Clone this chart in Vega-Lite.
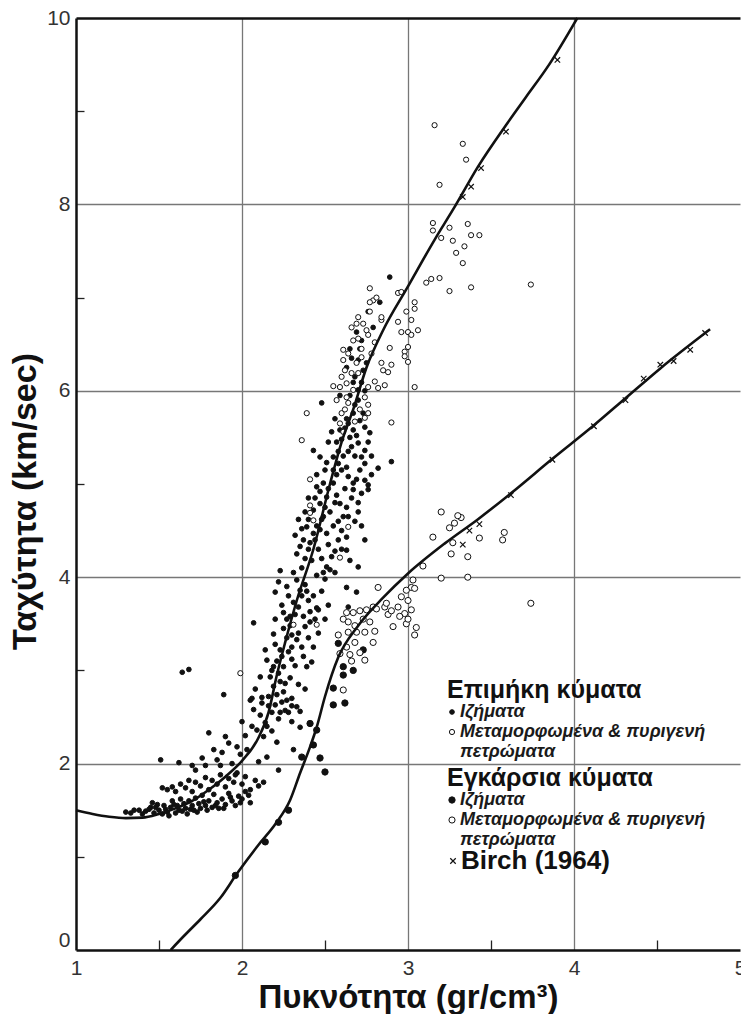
{
  "$schema": "https://vega.github.io/schema/vega-lite/v6.json",
  "width": 664,
  "height": 932,
  "autosize": {"type": "none"},
  "padding": {"left": 76, "top": 18, "right": 1, "bottom": 64},
  "background": "white",
  "config": {
    "view": {"stroke": null},
    "font": "Liberation Sans",
    "legend": {
      "padding": 0,
      "symbolOffset": -4,
      "labelOffset": -1,
      "gridAlign": "none",
      "titleFont": "Liberation Sans",
      "titleFontSize": 25,
      "titleFontWeight": "bold",
      "titleColor": "#111",
      "titlePadding": 0,
      "titleLimit": 400,
      "labelFont": "Liberation Sans",
      "labelFontSize": 18,
      "labelFontStyle": "italic",
      "labelFontWeight": "bold",
      "labelColor": "#1a1a1a",
      "labelLimit": 400,
      "rowPadding": 2,
      "symbolStrokeWidth": 1
    }
  },
  "datasets": {
    "p_waves": [
      {"density":1.30,"velocity":1.48,"rock":"sed"},{"density":1.33,"velocity":1.47,"rock":"sed"},{"density":1.35,"velocity":1.50,"rock":"sed"},{"density":1.38,"velocity":1.50,"rock":"sed"},{"density":1.40,"velocity":1.46,"rock":"sed"},{"density":1.42,"velocity":1.49,"rock":"sed"},{"density":1.44,"velocity":1.51,"rock":"sed"},{"density":1.45,"velocity":1.53,"rock":"sed"},{"density":1.46,"velocity":1.58,"rock":"sed"},{"density":1.47,"velocity":1.47,"rock":"sed"},{"density":1.48,"velocity":1.53,"rock":"sed"},{"density":1.49,"velocity":1.56,"rock":"sed"},{"density":1.50,"velocity":1.50,"rock":"sed"},{"density":1.52,"velocity":1.46,"rock":"sed"},{"density":1.53,"velocity":1.55,"rock":"sed"},{"density":1.54,"velocity":1.51,"rock":"sed"},{"density":1.55,"velocity":1.48,"rock":"sed"},{"density":1.56,"velocity":1.44,"rock":"sed"},{"density":1.57,"velocity":1.53,"rock":"sed"},{"density":1.58,"velocity":1.60,"rock":"sed"},{"density":1.59,"velocity":1.56,"rock":"sed"},{"density":1.60,"velocity":1.47,"rock":"sed"},{"density":1.61,"velocity":1.55,"rock":"sed"},{"density":1.62,"velocity":1.50,"rock":"sed"},{"density":1.63,"velocity":1.62,"rock":"sed"},{"density":1.64,"velocity":1.49,"rock":"sed"},{"density":1.65,"velocity":1.57,"rock":"sed"},{"density":1.66,"velocity":1.52,"rock":"sed"},{"density":1.67,"velocity":1.46,"rock":"sed"},{"density":1.68,"velocity":1.60,"rock":"sed"},{"density":1.69,"velocity":1.51,"rock":"sed"},{"density":1.70,"velocity":1.55,"rock":"sed"},{"density":1.71,"velocity":1.50,"rock":"sed"},{"density":1.72,"velocity":1.63,"rock":"sed"},{"density":1.73,"velocity":1.48,"rock":"sed"},{"density":1.74,"velocity":1.57,"rock":"sed"},{"density":1.75,"velocity":1.52,"rock":"sed"},{"density":1.76,"velocity":1.66,"rock":"sed"},{"density":1.77,"velocity":1.59,"rock":"sed"},{"density":1.78,"velocity":1.55,"rock":"sed"},{"density":1.79,"velocity":1.50,"rock":"sed"},{"density":1.80,"velocity":1.60,"rock":"sed"},{"density":1.82,"velocity":1.53,"rock":"sed"},{"density":1.83,"velocity":1.67,"rock":"sed"},{"density":1.84,"velocity":1.55,"rock":"sed"},{"density":1.85,"velocity":1.58,"rock":"sed"},{"density":1.86,"velocity":1.52,"rock":"sed"},{"density":1.88,"velocity":1.62,"rock":"sed"},{"density":1.89,"velocity":1.52,"rock":"sed"},{"density":1.90,"velocity":1.56,"rock":"sed"},{"density":1.92,"velocity":1.68,"rock":"sed"},{"density":1.93,"velocity":1.64,"rock":"sed"},{"density":1.94,"velocity":1.60,"rock":"sed"},{"density":1.96,"velocity":1.55,"rock":"sed"},{"density":1.98,"velocity":1.65,"rock":"sed"},{"density":1.99,"velocity":1.58,"rock":"sed"},{"density":2.00,"velocity":1.62,"rock":"sed"},{"density":2.02,"velocity":1.70,"rock":"sed"},{"density":2.04,"velocity":1.66,"rock":"sed"},{"density":2.05,"velocity":1.58,"rock":"sed"},
      {"density":1.52,"velocity":1.74,"rock":"sed"},{"density":1.55,"velocity":1.72,"rock":"sed"},{"density":1.58,"velocity":1.75,"rock":"sed"},{"density":1.60,"velocity":1.70,"rock":"sed"},{"density":1.63,"velocity":1.78,"rock":"sed"},{"density":1.66,"velocity":1.74,"rock":"sed"},{"density":1.68,"velocity":1.82,"rock":"sed"},{"density":1.70,"velocity":1.70,"rock":"sed"},{"density":1.72,"velocity":1.80,"rock":"sed"},{"density":1.75,"velocity":1.76,"rock":"sed"},{"density":1.78,"velocity":1.85,"rock":"sed"},{"density":1.80,"velocity":1.72,"rock":"sed"},{"density":1.82,"velocity":1.82,"rock":"sed"},{"density":1.85,"velocity":1.78,"rock":"sed"},{"density":1.87,"velocity":1.88,"rock":"sed"},{"density":1.90,"velocity":1.75,"rock":"sed"},{"density":1.92,"velocity":1.84,"rock":"sed"},{"density":1.95,"velocity":1.80,"rock":"sed"},{"density":1.97,"velocity":1.90,"rock":"sed"},{"density":2.00,"velocity":1.78,"rock":"sed"},{"density":2.02,"velocity":1.86,"rock":"sed"},{"density":2.05,"velocity":1.72,"rock":"sed"},{"density":2.08,"velocity":1.82,"rock":"sed"},{"density":2.10,"velocity":1.76,"rock":"sed"},{"density":2.13,"velocity":1.80,"rock":"sed"},
      {"density":1.51,"velocity":2.04,"rock":"sed"},{"density":1.62,"velocity":2.01,"rock":"sed"},{"density":1.72,"velocity":1.93,"rock":"sed"},{"density":1.78,"velocity":1.98,"rock":"sed"},{"density":1.80,"velocity":2.33,"rock":"sed"},{"density":1.85,"velocity":2.04,"rock":"sed"},{"density":1.88,"velocity":2.12,"rock":"sed"},{"density":1.90,"velocity":2.29,"rock":"sed"},{"density":1.92,"velocity":2.22,"rock":"sed"},{"density":1.94,"velocity":2.00,"rock":"sed"},{"density":1.96,"velocity":1.88,"rock":"sed"},{"density":1.97,"velocity":2.18,"rock":"sed"},{"density":1.99,"velocity":2.10,"rock":"sed"},{"density":2.00,"velocity":2.45,"rock":"sed"},{"density":2.02,"velocity":2.30,"rock":"sed"},{"density":2.05,"velocity":2.68,"rock":"sed"},{"density":2.07,"velocity":2.58,"rock":"sed"},{"density":2.09,"velocity":2.36,"rock":"sed"},{"density":2.11,"velocity":2.52,"rock":"sed"},{"density":2.13,"velocity":2.29,"rock":"sed"},{"density":2.14,"velocity":2.44,"rock":"sed"},{"density":2.15,"velocity":2.07,"rock":"sed"},{"density":2.16,"velocity":2.62,"rock":"sed"},{"density":2.18,"velocity":2.35,"rock":"sed"},{"density":2.21,"velocity":2.23,"rock":"sed"},{"density":2.22,"velocity":1.93,"rock":"sed"},{"density":2.23,"velocity":2.55,"rock":"sed"},{"density":2.35,"velocity":2.39,"rock":"sed"},{"density":2.30,"velocity":2.45,"rock":"sed"},{"density":1.64,"velocity":2.98,"rock":"sed"},{"density":1.68,"velocity":3.01,"rock":"sed"},{"density":1.89,"velocity":2.74,"rock":"sed"},{"density":1.83,"velocity":2.15,"rock":"sed"},{"density":1.87,"velocity":1.98,"rock":"sed"},{"density":2.03,"velocity":2.15,"rock":"sed"},{"density":2.06,"velocity":2.40,"rock":"sed"},{"density":2.10,"velocity":2.02,"rock":"sed"},{"density":2.12,"velocity":2.65,"rock":"sed"},{"density":1.76,"velocity":2.06,"rock":"sed"},{"density":1.70,"velocity":1.98,"rock":"sed"},{"density":2.31,"velocity":2.15,"rock":"sed"},
      {"density":2.06,"velocity":2.70,"rock":"sed"},{"density":2.08,"velocity":2.80,"rock":"sed"},{"density":2.11,"velocity":2.93,"rock":"sed"},{"density":2.14,"velocity":3.22,"rock":"sed"},{"density":2.15,"velocity":3.11,"rock":"sed"},{"density":2.19,"velocity":3.04,"rock":"sed"},{"density":2.25,"velocity":3.04,"rock":"sed"},{"density":2.32,"velocity":3.05,"rock":"sed"},{"density":2.39,"velocity":3.04,"rock":"sed"},{"density":2.42,"velocity":3.09,"rock":"sed"},{"density":2.17,"velocity":2.93,"rock":"sed"},{"density":2.22,"velocity":2.97,"rock":"sed"},{"density":2.23,"velocity":2.88,"rock":"sed"},{"density":2.26,"velocity":2.86,"rock":"sed"},{"density":2.19,"velocity":2.83,"rock":"sed"},{"density":2.25,"velocity":2.77,"rock":"sed"},{"density":2.21,"velocity":2.74,"rock":"sed"},{"density":2.16,"velocity":2.72,"rock":"sed"},{"density":2.12,"velocity":2.71,"rock":"sed"},{"density":2.24,"velocity":2.66,"rock":"sed"},{"density":2.20,"velocity":2.63,"rock":"sed"},{"density":2.27,"velocity":2.68,"rock":"sed"},{"density":2.30,"velocity":2.70,"rock":"sed"},{"density":2.18,"velocity":2.55,"rock":"sed"},{"density":2.22,"velocity":2.48,"rock":"sed"},{"density":2.26,"velocity":2.57,"rock":"sed"},{"density":2.15,"velocity":2.40,"rock":"sed"},{"density":2.28,"velocity":2.55,"rock":"sed"},{"density":2.24,"velocity":3.15,"rock":"sed"},{"density":2.28,"velocity":3.20,"rock":"sed"},{"density":2.20,"velocity":3.28,"rock":"sed"},{"density":2.36,"velocity":3.25,"rock":"sed"},{"density":2.33,"velocity":3.33,"rock":"sed"},{"density":2.30,"velocity":3.38,"rock":"sed"},{"density":2.25,"velocity":3.45,"rock":"sed"},{"density":2.19,"velocity":3.39,"rock":"sed"},{"density":2.07,"velocity":3.51,"rock":"sed"},{"density":2.20,"velocity":3.55,"rock":"sed"},{"density":2.25,"velocity":3.62,"rock":"sed"},{"density":2.31,"velocity":3.73,"rock":"sed"},{"density":2.38,"velocity":3.47,"rock":"sed"},{"density":2.41,"velocity":3.52,"rock":"sed"},{"density":2.41,"velocity":3.63,"rock":"sed"},{"density":2.46,"velocity":3.65,"rock":"sed"},{"density":2.20,"velocity":3.84,"rock":"sed"},{"density":2.23,"velocity":4.07,"rock":"sed"},{"density":2.33,"velocity":3.97,"rock":"sed"},{"density":2.35,"velocity":3.86,"rock":"sed"},{"density":2.38,"velocity":3.92,"rock":"sed"},{"density":2.43,"velocity":3.80,"rock":"sed"},{"density":2.45,"velocity":3.67,"rock":"sed"},{"density":2.44,"velocity":3.55,"rock":"sed"},{"density":2.40,"velocity":3.75,"rock":"sed"},{"density":2.29,"velocity":3.58,"rock":"sed"},{"density":2.27,"velocity":3.90,"rock":"sed"},{"density":2.31,"velocity":4.05,"rock":"sed"},{"density":2.36,"velocity":4.10,"rock":"sed"},{"density":2.45,"velocity":4.02,"rock":"sed"},{"density":2.49,"velocity":4.05,"rock":"sed"},{"density":2.51,"velocity":4.11,"rock":"sed"},{"density":2.53,"velocity":4.08,"rock":"sed"},{"density":2.56,"velocity":4.05,"rock":"sed"},{"density":2.50,"velocity":3.98,"rock":"sed"},{"density":2.63,"velocity":3.89,"rock":"sed"},{"density":2.69,"velocity":3.84,"rock":"sed"},{"density":2.63,"velocity":4.29,"rock":"sed"},{"density":2.65,"velocity":4.18,"rock":"sed"},{"density":2.70,"velocity":4.11,"rock":"sed"},{"density":2.33,"velocity":2.61,"rock":"sed"},{"density":2.30,"velocity":2.62,"rock":"sed"},{"density":2.35,"velocity":2.56,"rock":"sed"},{"density":2.30,"velocity":3.12,"rock":"sed"},{"density":2.37,"velocity":3.15,"rock":"sed"},{"density":2.34,"velocity":2.85,"rock":"sed"},{"density":2.29,"velocity":2.92,"rock":"sed"},{"density":2.38,"velocity":2.80,"rock":"sed"},{"density":2.64,"velocity":3.68,"rock":"sed"},
      {"density":2.18,"velocity":3.00,"rock":"sed"},{"density":2.21,"velocity":3.10,"rock":"sed"},{"density":2.23,"velocity":3.22,"rock":"sed"},{"density":2.27,"velocity":3.35,"rock":"sed"},{"density":2.29,"velocity":3.48,"rock":"sed"},{"density":2.32,"velocity":3.60,"rock":"sed"},{"density":2.34,"velocity":3.68,"rock":"sed"},{"density":2.36,"velocity":3.80,"rock":"sed"},{"density":2.39,"velocity":3.85,"rock":"sed"},{"density":2.30,"velocity":3.25,"rock":"sed"},{"density":2.34,"velocity":3.40,"rock":"sed"},{"density":2.27,"velocity":3.55,"rock":"sed"},{"density":2.24,"velocity":3.70,"rock":"sed"},{"density":2.22,"velocity":3.95,"rock":"sed"},{"density":2.28,"velocity":3.80,"rock":"sed"},{"density":2.37,"velocity":3.58,"rock":"sed"},{"density":2.40,"velocity":3.35,"rock":"sed"},{"density":2.43,"velocity":3.25,"rock":"sed"},{"density":2.46,"velocity":3.40,"rock":"sed"},{"density":2.50,"velocity":3.55,"rock":"sed"},{"density":2.52,"velocity":3.70,"rock":"sed"},{"density":2.48,"velocity":3.85,"rock":"sed"},
      {"density":2.38,"velocity":4.20,"rock":"sed"},{"density":2.40,"velocity":4.30,"rock":"sed"},{"density":2.44,"velocity":4.40,"rock":"sed"},{"density":2.45,"velocity":4.55,"rock":"sed"},{"density":2.49,"velocity":4.65,"rock":"sed"},{"density":2.50,"velocity":4.75,"rock":"sed"},{"density":2.52,"velocity":4.95,"rock":"sed"},{"density":2.44,"velocity":4.85,"rock":"sed"},{"density":2.47,"velocity":4.92,"rock":"sed"},{"density":2.56,"velocity":4.80,"rock":"sed"},{"density":2.58,"velocity":4.60,"rock":"sed"},{"density":2.60,"velocity":4.50,"rock":"sed"},{"density":2.62,"velocity":4.95,"rock":"sed"},{"density":2.66,"velocity":4.85,"rock":"sed"},{"density":2.70,"velocity":4.70,"rock":"sed"},{"density":2.72,"velocity":4.55,"rock":"sed"},{"density":2.74,"velocity":4.40,"rock":"sed"},{"density":2.60,"velocity":4.30,"rock":"sed"},{"density":2.56,"velocity":4.28,"rock":"sed"},{"density":2.48,"velocity":4.20,"rock":"sed"},{"density":2.32,"velocity":4.45,"rock":"sed"},{"density":2.34,"velocity":4.62,"rock":"sed"},
      {"density":2.55,"velocity":5.15,"rock":"sed"},{"density":2.58,"velocity":5.22,"rock":"sed"},{"density":2.61,"velocity":5.30,"rock":"sed"},{"density":2.64,"velocity":5.35,"rock":"sed"},{"density":2.65,"velocity":5.50,"rock":"sed"},{"density":2.57,"velocity":5.45,"rock":"sed"},{"density":2.59,"velocity":5.58,"rock":"sed"},{"density":2.63,"velocity":5.70,"rock":"sed"},{"density":2.68,"velocity":5.85,"rock":"sed"},{"density":2.71,"velocity":5.68,"rock":"sed"},{"density":2.69,"velocity":5.52,"rock":"sed"},{"density":2.76,"velocity":5.45,"rock":"sed"},{"density":2.78,"velocity":5.30,"rock":"sed"},{"density":2.71,"velocity":5.15,"rock":"sed"},{"density":2.69,"velocity":5.05,"rock":"sed"},{"density":2.78,"velocity":5.10,"rock":"sed"},{"density":2.65,"velocity":5.95,"rock":"sed"},{"density":2.68,"velocity":6.15,"rock":"sed"},{"density":2.74,"velocity":6.00,"rock":"sed"},{"density":2.71,"velocity":6.45,"rock":"sed"},{"density":2.66,"velocity":6.35,"rock":"sed"},{"density":2.75,"velocity":6.30,"rock":"sed"},
      {"density":2.33,"velocity":4.25,"rock":"sed"},{"density":2.37,"velocity":4.40,"rock":"sed"},{"density":2.41,"velocity":4.37,"rock":"sed"},{"density":2.43,"velocity":4.47,"rock":"sed"},{"density":2.47,"velocity":4.51,"rock":"sed"},{"density":2.51,"velocity":4.47,"rock":"sed"},{"density":2.39,"velocity":4.54,"rock":"sed"},{"density":2.43,"velocity":4.72,"rock":"sed"},{"density":2.47,"velocity":4.79,"rock":"sed"},{"density":2.51,"velocity":4.86,"rock":"sed"},{"density":2.59,"velocity":4.79,"rock":"sed"},{"density":2.63,"velocity":4.75,"rock":"sed"},{"density":2.61,"velocity":4.65,"rock":"sed"},{"density":2.64,"velocity":4.65,"rock":"sed"},{"density":2.63,"velocity":4.43,"rock":"sed"},{"density":2.55,"velocity":4.55,"rock":"sed"},{"density":2.45,"velocity":4.97,"rock":"sed"},{"density":2.49,"velocity":5.01,"rock":"sed"},{"density":2.55,"velocity":5.01,"rock":"sed"},{"density":2.40,"velocity":4.62,"rock":"sed"},{"density":2.35,"velocity":4.33,"rock":"sed"},{"density":2.46,"velocity":4.30,"rock":"sed"},{"density":2.52,"velocity":4.35,"rock":"sed"},{"density":2.58,"velocity":4.40,"rock":"sed"},{"density":2.54,"velocity":4.22,"rock":"sed"},{"density":2.42,"velocity":4.18,"rock":"sed"},{"density":2.48,"velocity":4.62,"rock":"sed"},{"density":2.53,"velocity":4.70,"rock":"sed"},{"density":2.57,"velocity":4.88,"rock":"sed"},{"density":2.40,"velocity":4.85,"rock":"sed"},{"density":2.38,"velocity":4.70,"rock":"sed"},{"density":2.36,"velocity":4.52,"rock":"sed"},{"density":2.67,"velocity":4.94,"rock":"sed"},{"density":2.67,"velocity":5.01,"rock":"sed"},{"density":2.64,"velocity":5.08,"rock":"sed"},{"density":2.63,"velocity":5.18,"rock":"sed"},{"density":2.74,"velocity":5.04,"rock":"sed"},{"density":2.76,"velocity":4.94,"rock":"sed"},{"density":2.76,"velocity":4.99,"rock":"sed"},{"density":2.72,"velocity":4.90,"rock":"sed"},{"density":2.70,"velocity":4.80,"rock":"sed"},{"density":2.68,"velocity":4.60,"rock":"sed"},
      {"density":2.43,"velocity":5.36,"rock":"sed"},{"density":2.47,"velocity":5.29,"rock":"sed"},{"density":2.51,"velocity":5.23,"rock":"sed"},{"density":2.55,"velocity":5.29,"rock":"sed"},{"density":2.52,"velocity":5.45,"rock":"sed"},{"density":2.54,"velocity":5.56,"rock":"sed"},{"density":2.48,"velocity":5.87,"rock":"sed"},{"density":2.58,"velocity":5.35,"rock":"sed"},{"density":2.60,"velocity":5.48,"rock":"sed"},{"density":2.62,"velocity":5.60,"rock":"sed"},{"density":2.64,"velocity":5.65,"rock":"sed"},{"density":2.67,"velocity":5.58,"rock":"sed"},{"density":2.70,"velocity":5.44,"rock":"sed"},{"density":2.74,"velocity":5.36,"rock":"sed"},{"density":2.72,"velocity":5.29,"rock":"sed"},{"density":2.74,"velocity":5.22,"rock":"sed"},{"density":2.74,"velocity":5.61,"rock":"sed"},{"density":2.77,"velocity":5.55,"rock":"sed"},{"density":2.67,"velocity":5.76,"rock":"sed"},{"density":2.73,"velocity":5.76,"rock":"sed"},{"density":2.70,"velocity":5.90,"rock":"sed"},{"density":2.67,"velocity":6.09,"rock":"sed"},{"density":2.72,"velocity":6.09,"rock":"sed"},{"density":2.70,"velocity":6.01,"rock":"sed"},{"density":2.73,"velocity":6.22,"rock":"sed"},{"density":2.70,"velocity":6.33,"rock":"sed"},{"density":2.72,"velocity":6.54,"rock":"sed"},{"density":2.69,"velocity":6.63,"rock":"sed"},{"density":2.79,"velocity":6.68,"rock":"sed"},{"density":2.83,"velocity":6.95,"rock":"sed"},{"density":2.89,"velocity":7.22,"rock":"sed"},{"density":2.82,"velocity":5.17,"rock":"sed"},{"density":2.90,"velocity":5.24,"rock":"sed"},{"density":2.60,"velocity":5.15,"rock":"sed"},{"density":2.57,"velocity":5.10,"rock":"sed"},{"density":2.50,"velocity":5.15,"rock":"sed"},{"density":2.56,"velocity":5.70,"rock":"sed"},{"density":2.59,"velocity":5.95,"rock":"sed"},{"density":2.63,"velocity":6.25,"rock":"sed"},{"density":2.65,"velocity":6.45,"rock":"sed"},{"density":2.76,"velocity":6.85,"rock":"sed"},{"density":2.68,"velocity":5.30,"rock":"sed"},{"density":2.66,"velocity":5.40,"rock":"sed"},{"density":2.45,"velocity":5.10,"rock":"sed"},
      {"density":3.16,"velocity":8.85,"rock":"meta"},{"density":3.33,"velocity":8.65,"rock":"meta"},{"density":3.35,"velocity":8.48,"rock":"meta"},{"density":3.19,"velocity":8.21,"rock":"meta"},{"density":3.15,"velocity":7.80,"rock":"meta"},{"density":3.15,"velocity":7.72,"rock":"meta"},{"density":3.25,"velocity":7.75,"rock":"meta"},{"density":3.36,"velocity":7.79,"rock":"meta"},{"density":3.38,"velocity":7.67,"rock":"meta"},{"density":3.43,"velocity":7.67,"rock":"meta"},{"density":3.20,"velocity":7.64,"rock":"meta"},{"density":3.27,"velocity":7.61,"rock":"meta"},{"density":3.34,"velocity":7.55,"rock":"meta"},{"density":3.29,"velocity":7.48,"rock":"meta"},{"density":3.33,"velocity":7.37,"rock":"meta"},{"density":3.11,"velocity":7.16,"rock":"meta"},{"density":3.14,"velocity":7.20,"rock":"meta"},{"density":3.19,"velocity":7.21,"rock":"meta"},{"density":3.25,"velocity":7.07,"rock":"meta"},{"density":3.38,"velocity":7.11,"rock":"meta"},{"density":3.74,"velocity":7.14,"rock":"meta"},{"density":2.94,"velocity":7.05,"rock":"meta"},{"density":2.96,"velocity":7.06,"rock":"meta"},{"density":3.04,"velocity":6.95,"rock":"meta"},{"density":3.04,"velocity":6.88,"rock":"meta"},{"density":2.99,"velocity":6.85,"rock":"meta"},{"density":3.02,"velocity":6.76,"rock":"meta"},{"density":2.94,"velocity":6.74,"rock":"meta"},{"density":3.06,"velocity":6.65,"rock":"meta"},{"density":3.00,"velocity":6.63,"rock":"meta"},{"density":2.96,"velocity":6.63,"rock":"meta"},{"density":3.02,"velocity":6.60,"rock":"meta"},{"density":3.00,"velocity":6.47,"rock":"meta"},{"density":2.98,"velocity":6.42,"rock":"meta"},{"density":2.98,"velocity":6.37,"rock":"meta"},{"density":3.00,"velocity":6.31,"rock":"meta"},{"density":2.89,"velocity":6.46,"rock":"meta"},{"density":2.90,"velocity":6.28,"rock":"meta"},{"density":2.85,"velocity":6.22,"rock":"meta"},{"density":2.86,"velocity":6.06,"rock":"meta"},{"density":2.82,"velocity":6.03,"rock":"meta"},{"density":3.04,"velocity":6.04,"rock":"meta"},{"density":2.90,"velocity":5.66,"rock":"meta"},{"density":2.80,"velocity":6.52,"rock":"meta"},{"density":2.84,"velocity":6.76,"rock":"meta"},{"density":2.79,"velocity":6.97,"rock":"meta"},{"density":2.81,"velocity":7.00,"rock":"meta"},{"density":2.77,"velocity":6.95,"rock":"meta"},{"density":2.70,"velocity":6.79,"rock":"meta"},{"density":2.69,"velocity":6.72,"rock":"meta"},{"density":2.73,"velocity":6.72,"rock":"meta"},{"density":2.76,"velocity":6.60,"rock":"meta"},{"density":2.67,"velocity":6.54,"rock":"meta"},{"density":2.70,"velocity":6.56,"rock":"meta"},{"density":2.61,"velocity":6.44,"rock":"meta"},{"density":2.61,"velocity":6.33,"rock":"meta"},{"density":2.64,"velocity":6.40,"rock":"meta"},{"density":2.69,"velocity":6.30,"rock":"meta"},{"density":2.72,"velocity":6.36,"rock":"meta"},{"density":2.60,"velocity":6.15,"rock":"meta"},{"density":2.62,"velocity":6.22,"rock":"meta"},{"density":2.66,"velocity":6.19,"rock":"meta"},{"density":2.70,"velocity":6.19,"rock":"meta"},{"density":2.59,"velocity":6.04,"rock":"meta"},{"density":2.63,"velocity":6.08,"rock":"meta"},{"density":2.67,"velocity":6.01,"rock":"meta"},{"density":2.76,"velocity":6.04,"rock":"meta"},{"density":2.57,"velocity":5.90,"rock":"meta"},{"density":2.63,"velocity":5.93,"rock":"meta"},{"density":2.64,"velocity":5.87,"rock":"meta"},{"density":2.74,"velocity":5.93,"rock":"meta"},{"density":2.76,"velocity":5.85,"rock":"meta"},{"density":2.60,"velocity":5.76,"rock":"meta"},{"density":2.76,"velocity":5.76,"rock":"meta"},{"density":2.74,"velocity":5.71,"rock":"meta"},{"density":2.59,"velocity":5.65,"rock":"meta"},{"density":2.61,"velocity":5.56,"rock":"meta"},{"density":2.39,"velocity":5.76,"rock":"meta"},{"density":2.36,"velocity":5.47,"rock":"meta"},{"density":2.41,"velocity":5.05,"rock":"meta"},{"density":2.41,"velocity":4.77,"rock":"meta"},{"density":2.41,"velocity":4.69,"rock":"meta"},{"density":2.43,"velocity":4.61,"rock":"meta"},{"density":2.64,"velocity":4.54,"rock":"meta"},{"density":2.77,"velocity":6.85,"rock":"meta"},{"density":2.75,"velocity":6.65,"rock":"meta"},{"density":2.66,"velocity":6.68,"rock":"meta"},{"density":2.72,"velocity":6.45,"rock":"meta"},{"density":2.78,"velocity":6.40,"rock":"meta"},{"density":2.84,"velocity":6.30,"rock":"meta"},{"density":2.88,"velocity":6.20,"rock":"meta"},{"density":2.80,"velocity":6.10,"rock":"meta"},{"density":2.62,"velocity":5.80,"rock":"meta"},{"density":2.71,"velocity":5.80,"rock":"meta"},{"density":2.68,"velocity":5.67,"rock":"meta"},{"density":2.55,"velocity":6.05,"rock":"meta"},{"density":2.84,"velocity":6.79,"rock":"meta"},{"density":2.77,"velocity":7.10,"rock":"meta"},{"density":1.99,"velocity":2.97,"rock":"meta"},{"density":2.59,"velocity":4.21,"rock":"meta"},{"density":2.45,"velocity":3.49,"rock":"meta"},{"density":2.31,"velocity":3.49,"rock":"meta"}
    ],
    "s_waves": [
      {"density":1.96,"velocity":0.80,"rock":"sed"},{"density":2.14,"velocity":1.16,"rock":"sed"},{"density":2.22,"velocity":1.37,"rock":"sed"},{"density":2.28,"velocity":1.50,"rock":"sed"},{"density":2.36,"velocity":2.07,"rock":"sed"},{"density":2.43,"velocity":2.20,"rock":"sed"},{"density":2.47,"velocity":2.06,"rock":"sed"},{"density":2.50,"velocity":1.91,"rock":"sed"},{"density":2.41,"velocity":2.43,"rock":"sed"},{"density":2.45,"velocity":2.36,"rock":"sed"},{"density":2.55,"velocity":2.63,"rock":"sed"},{"density":2.55,"velocity":2.81,"rock":"sed"},{"density":2.62,"velocity":2.65,"rock":"sed"},{"density":2.61,"velocity":2.95,"rock":"sed"},{"density":2.61,"velocity":3.04,"rock":"sed"},{"density":2.67,"velocity":3.00,"rock":"sed"},{"density":2.73,"velocity":3.22,"rock":"sed"},{"density":2.58,"velocity":3.29,"rock":"sed"},
      {"density":2.82,"velocity":3.89,"rock":"meta"},{"density":2.79,"velocity":3.68,"rock":"meta"},{"density":2.75,"velocity":3.65,"rock":"meta"},{"density":2.86,"velocity":3.68,"rock":"meta"},{"density":2.88,"velocity":3.60,"rock":"meta"},{"density":2.94,"velocity":3.68,"rock":"meta"},{"density":2.96,"velocity":3.79,"rock":"meta"},{"density":3.00,"velocity":3.75,"rock":"meta"},{"density":2.98,"velocity":3.61,"rock":"meta"},{"density":3.02,"velocity":3.65,"rock":"meta"},{"density":3.02,"velocity":3.89,"rock":"meta"},{"density":3.03,"velocity":3.97,"rock":"meta"},{"density":2.99,"velocity":3.86,"rock":"meta"},{"density":2.91,"velocity":3.47,"rock":"meta"},{"density":2.99,"velocity":3.50,"rock":"meta"},{"density":3.04,"velocity":3.38,"rock":"meta"},{"density":2.63,"velocity":3.62,"rock":"meta"},{"density":2.67,"velocity":3.62,"rock":"meta"},{"density":2.61,"velocity":3.55,"rock":"meta"},{"density":2.64,"velocity":3.52,"rock":"meta"},{"density":2.68,"velocity":3.48,"rock":"meta"},{"density":2.73,"velocity":3.55,"rock":"meta"},{"density":2.77,"velocity":3.52,"rock":"meta"},{"density":2.64,"velocity":3.41,"rock":"meta"},{"density":2.69,"velocity":3.41,"rock":"meta"},{"density":2.74,"velocity":3.41,"rock":"meta"},{"density":2.79,"velocity":3.30,"rock":"meta"},{"density":2.68,"velocity":3.30,"rock":"meta"},{"density":2.63,"velocity":3.25,"rock":"meta"},{"density":2.59,"velocity":3.18,"rock":"meta"},{"density":2.65,"velocity":3.17,"rock":"meta"},{"density":2.71,"velocity":3.19,"rock":"meta"},{"density":2.66,"velocity":3.10,"rock":"meta"},{"density":2.74,"velocity":3.11,"rock":"meta"},{"density":2.81,"velocity":3.66,"rock":"meta"},{"density":2.87,"velocity":3.72,"rock":"meta"},{"density":2.90,"velocity":3.64,"rock":"meta"},{"density":2.95,"velocity":3.58,"rock":"meta"},{"density":3.00,"velocity":3.55,"rock":"meta"},{"density":3.05,"velocity":3.46,"rock":"meta"},{"density":2.80,"velocity":3.42,"rock":"meta"},{"density":2.61,"velocity":2.79,"rock":"meta"},{"density":2.58,"velocity":3.38,"rock":"meta"},{"density":2.71,"velocity":3.64,"rock":"meta"},
      {"density":3.20,"velocity":4.70,"rock":"meta"},{"density":3.32,"velocity":4.64,"rock":"meta"},{"density":3.28,"velocity":4.58,"rock":"meta"},{"density":3.25,"velocity":4.53,"rock":"meta"},{"density":3.15,"velocity":4.43,"rock":"meta"},{"density":3.27,"velocity":4.37,"rock":"meta"},{"density":3.43,"velocity":4.42,"rock":"meta"},{"density":3.26,"velocity":4.25,"rock":"meta"},{"density":3.36,"velocity":4.22,"rock":"meta"},{"density":3.58,"velocity":4.48,"rock":"meta"},{"density":3.57,"velocity":4.40,"rock":"meta"},{"density":3.09,"velocity":4.12,"rock":"meta"},{"density":3.20,"velocity":3.99,"rock":"meta"},{"density":3.36,"velocity":4.00,"rock":"meta"},{"density":3.74,"velocity":3.72,"rock":"meta"},{"density":3.04,"velocity":3.88,"rock":"meta"},{"density":3.30,"velocity":4.66,"rock":"meta"}
    ],
    "birch": [
      {"density":3.33,"velocity":8.08,"source":"Birch (1964)"},{"density":3.38,"velocity":8.19,"source":"Birch (1964)"},{"density":3.44,"velocity":8.39,"source":"Birch (1964)"},{"density":3.59,"velocity":8.78,"source":"Birch (1964)"},{"density":3.90,"velocity":9.55,"source":"Birch (1964)"},
      {"density":3.33,"velocity":4.35,"source":"Birch (1964)"},{"density":3.37,"velocity":4.50,"source":"Birch (1964)"},{"density":3.43,"velocity":4.57,"source":"Birch (1964)"},{"density":3.62,"velocity":4.88,"source":"Birch (1964)"},{"density":3.87,"velocity":5.26,"source":"Birch (1964)"},{"density":4.12,"velocity":5.62,"source":"Birch (1964)"},{"density":4.31,"velocity":5.90,"source":"Birch (1964)"},{"density":4.42,"velocity":6.13,"source":"Birch (1964)"},{"density":4.52,"velocity":6.28,"source":"Birch (1964)"},{"density":4.60,"velocity":6.32,"source":"Birch (1964)"},{"density":4.70,"velocity":6.44,"source":"Birch (1964)"},{"density":4.79,"velocity":6.62,"source":"Birch (1964)"}
    ],
    "curves": [
      {"density":1.00,"velocity":1.50,"curve":"P"},{"density":1.10,"velocity":1.46,"curve":"P"},{"density":1.20,"velocity":1.43,"curve":"P"},{"density":1.30,"velocity":1.415,"curve":"P"},{"density":1.40,"velocity":1.42,"curve":"P"},{"density":1.50,"velocity":1.46,"curve":"P"},{"density":1.60,"velocity":1.52,"curve":"P"},{"density":1.70,"velocity":1.60,"curve":"P"},{"density":1.80,"velocity":1.72,"curve":"P"},{"density":1.90,"velocity":1.86,"curve":"P"},{"density":2.00,"velocity":2.03,"curve":"P"},{"density":2.10,"velocity":2.28,"curve":"P"},{"density":2.16,"velocity":2.55,"curve":"P"},{"density":2.21,"velocity":2.95,"curve":"P"},{"density":2.26,"velocity":3.30,"curve":"P"},{"density":2.33,"velocity":3.75,"curve":"P"},{"density":2.43,"velocity":4.30,"curve":"P"},{"density":2.53,"velocity":5.00,"curve":"P"},{"density":2.60,"velocity":5.45,"curve":"P"},{"density":2.67,"velocity":5.80,"curve":"P"},{"density":2.75,"velocity":6.25,"curve":"P"},{"density":2.85,"velocity":6.65,"curve":"P"},{"density":3.00,"velocity":7.12,"curve":"P"},{"density":3.16,"velocity":7.62,"curve":"P"},{"density":3.28,"velocity":7.97,"curve":"P"},{"density":3.42,"velocity":8.40,"curve":"P"},{"density":3.59,"velocity":8.85,"curve":"P"},{"density":3.71,"velocity":9.15,"curve":"P"},{"density":3.85,"velocity":9.50,"curve":"P"},{"density":4.02,"velocity":10.0,"curve":"P"},
      {"density":1.57,"velocity":0.00,"curve":"S"},{"density":1.65,"velocity":0.15,"curve":"S"},{"density":1.75,"velocity":0.33,"curve":"S"},{"density":1.87,"velocity":0.56,"curve":"S"},{"density":1.97,"velocity":0.82,"curve":"S"},{"density":2.10,"velocity":1.13,"curve":"S"},{"density":2.20,"velocity":1.35,"curve":"S"},{"density":2.29,"velocity":1.61,"curve":"S"},{"density":2.35,"velocity":1.90,"curve":"S"},{"density":2.41,"velocity":2.18,"curve":"S"},{"density":2.45,"velocity":2.39,"curve":"S"},{"density":2.50,"velocity":2.72,"curve":"S"},{"density":2.58,"velocity":3.14,"curve":"S"},{"density":2.70,"velocity":3.48,"curve":"S"},{"density":2.85,"velocity":3.78,"curve":"S"},{"density":3.00,"velocity":4.04,"curve":"S"},{"density":3.22,"velocity":4.36,"curve":"S"},{"density":3.42,"velocity":4.62,"curve":"S"},{"density":3.62,"velocity":4.90,"curve":"S"},{"density":3.87,"velocity":5.27,"curve":"S"},{"density":4.12,"velocity":5.63,"curve":"S"},{"density":4.31,"velocity":5.92,"curve":"S"},{"density":4.52,"velocity":6.24,"curve":"S"},{"density":4.82,"velocity":6.66,"curve":"S"}
    ]
  },
  "layer": [
    {
      "data": {"name": "p_waves"},
      "mark": {"type": "point", "filled": true, "strokeWidth": 1, "opacity": 1},
      "encoding": {
        "x": {"field": "density", "type": "quantitative", "scale": {"domain": [1, 5], "nice": false, "zero": false},
          "axis": {"orient": "bottom", "title": "Πυκνότητα (gr/cm³)", "values": [1, 1.5, 2, 2.5, 3, 3.5, 4, 4.5, 5],
            "labelExpr": "datum.value % 1 == 0 ? format(datum.value, 'd') : ''",
            "grid": true, "gridColor": "#777", "gridWidth": 1.3,
            "gridOpacity": {"condition": {"test": "datum.value % 1 == 0 && datum.value > 1 && datum.value < 5", "value": 1}, "value": 0},
            "ticks": true, "tickSize": -10, "tickColor": "#222", "tickWidth": 1.3,
            "tickOpacity": {"condition": {"test": "datum.value % 1 != 0", "value": 1}, "value": 0},
            "domainColor": "#111", "domainWidth": 2.5,
            "labelFont": "Liberation Sans", "labelFontSize": 21, "labelColor": "#333", "labelPadding": 17, "labelOverlap": false, "labelFlush": false,
            "titleFont": "Liberation Sans", "titleFontSize": 33, "titleFontWeight": "bold", "titleColor": "#111", "titlePadding": 3}},
        "y": {"field": "velocity", "type": "quantitative", "scale": {"domain": [0, 10], "nice": false, "zero": false},
          "axis": {"title": "Ταχύτητα (km/sec)", "values": [0, 1, 2, 3, 4, 5, 6, 7, 8, 9, 10],
            "labelExpr": "datum.value % 2 == 0 ? format(datum.value, 'd') : ''",
            "grid": true, "gridColor": "#777", "gridWidth": 1.3,
            "gridOpacity": {"condition": {"test": "datum.value % 2 == 0 && datum.value > 0 && datum.value < 10", "value": 1}, "value": 0},
            "ticks": true, "tickSize": -8, "tickColor": "#222", "tickWidth": 1.3,
            "tickOpacity": {"condition": {"test": "datum.value % 2 == 1", "value": 1}, "value": 0},
            "domainColor": "#111", "domainWidth": 2.5,
            "labelFont": "Liberation Sans", "labelFontSize": 21, "labelColor": "#333", "labelPadding": 14, "labelOverlap": false, "labelFlush": false,
            "labelBaseline": {"condition": {"test": "datum.value == 0", "value": "bottom"}, "value": "middle"},
            "titleFont": "Liberation Sans", "titleFontSize": 34, "titleFontWeight": "bold", "titleColor": "#111", "titlePadding": 4, "titleY": 483}},
        "fill": {"field": "rock", "type": "nominal", "scale": {"domain": ["sed", "meta", "meta2"], "range": ["#111", "white", "transparent"]},
          "legend": {"title": "Επιμήκη κύματα", "orient": "none", "legendX": 371, "legendY": 660,
            "labelExpr": "datum.value == 'sed' ? 'Ιζήματα' : datum.value == 'meta' ? 'Μεταμορφωμένα & πυριγενή' : 'πετρώματα'"}},
        "stroke": {"field": "rock", "type": "nominal", "scale": {"domain": ["sed", "meta", "meta2"], "range": ["#111", "#111", "transparent"]},
          "legend": {"title": "Επιμήκη κύματα", "orient": "none", "legendX": 371, "legendY": 660,
            "labelExpr": "datum.value == 'sed' ? 'Ιζήματα' : datum.value == 'meta' ? 'Μεταμορφωμένα & πυριγενή' : 'πετρώματα'"}},
        "size": {"field": "rock", "type": "nominal", "scale": {"domain": ["sed", "meta", "meta2"], "range": [22, 32, 0]},
          "legend": {"title": "Επιμήκη κύματα", "orient": "none", "legendX": 371, "legendY": 660,
            "labelExpr": "datum.value == 'sed' ? 'Ιζήματα' : datum.value == 'meta' ? 'Μεταμορφωμένα & πυριγενή' : 'πετρώματα'"}}
      }
    },
    {
      "data": {"name": "s_waves"},
      "mark": {"type": "point", "filled": true, "strokeWidth": 1, "opacity": 1},
      "encoding": {
        "x": {"field": "density", "type": "quantitative", "axis": null},
        "y": {"field": "velocity", "type": "quantitative", "title": "Ταχύτητα (km/sec)"},
        "fill": {"field": "rock", "type": "nominal", "scale": {"domain": ["sed", "meta", "meta2"], "range": ["#111", "white", "transparent"]},
          "legend": {"title": "Εγκάρσια κύματα", "orient": "none", "legendX": 371, "legendY": 748,
            "labelExpr": "datum.value == 'sed' ? 'Ιζήματα' : datum.value == 'meta' ? 'Μεταμορφωμένα & πυριγενή' : 'πετρώματα'"}},
        "stroke": {"field": "rock", "type": "nominal", "scale": {"domain": ["sed", "meta", "meta2"], "range": ["#111", "#111", "transparent"]},
          "legend": {"title": "Εγκάρσια κύματα", "orient": "none", "legendX": 371, "legendY": 748,
            "labelExpr": "datum.value == 'sed' ? 'Ιζήματα' : datum.value == 'meta' ? 'Μεταμορφωμένα & πυριγενή' : 'πετρώματα'"}},
        "size": {"field": "rock", "type": "nominal", "scale": {"domain": ["sed", "meta", "meta2"], "range": [40, 36, 0]},
          "legend": {"title": "Εγκάρσια κύματα", "orient": "none", "legendX": 371, "legendY": 748,
            "labelExpr": "datum.value == 'sed' ? 'Ιζήματα' : datum.value == 'meta' ? 'Μεταμορφωμένα & πυριγενή' : 'πετρώματα'"}}
      }
    },
    {
      "data": {"name": "birch"},
      "mark": {"type": "point", "filled": false, "stroke": "#111", "strokeWidth": 1.2, "size": 30, "opacity": 1},
      "encoding": {
        "x": {"field": "density", "type": "quantitative", "axis": null},
        "y": {"field": "velocity", "type": "quantitative", "title": "Ταχύτητα (km/sec)"},
        "shape": {"field": "source", "type": "nominal", "scale": {"domain": ["Birch (1964)"], "range": ["M-1,-1L1,1M1,-1L-1,1"]},
          "legend": {"title": null, "orient": "none", "legendX": 371, "legendY": 830, "labelFontSize": 26, "labelFontWeight": "bold", "labelFontStyle": "normal", "labelColor": "#111", "symbolSize": 30, "symbolStrokeColor": "#111", "symbolStrokeWidth": 1.2, "symbolOffset": -7, "labelOffset": -5}}
      }
    },
    {
      "data": {"name": "curves"},
      "mark": {"type": "line", "color": "#111", "strokeWidth": 2.6, "interpolate": "monotone"},
      "encoding": {
        "x": {"field": "density", "type": "quantitative",
          "axis": {"orient": "top", "title": null, "labels": false, "ticks": false, "grid": false, "domain": true, "domainColor": "#111", "domainWidth": 2.5}},
        "y": {"field": "velocity", "type": "quantitative", "title": "Ταχύτητα (km/sec)"},
        "detail": {"field": "curve", "type": "nominal"}
      }
    }
  ],
  "resolve": {
    "scale": {"fill": "independent", "size": "independent", "shape": "independent", "stroke": "independent"},
    "axis": {"x": "independent"}
  }
}
